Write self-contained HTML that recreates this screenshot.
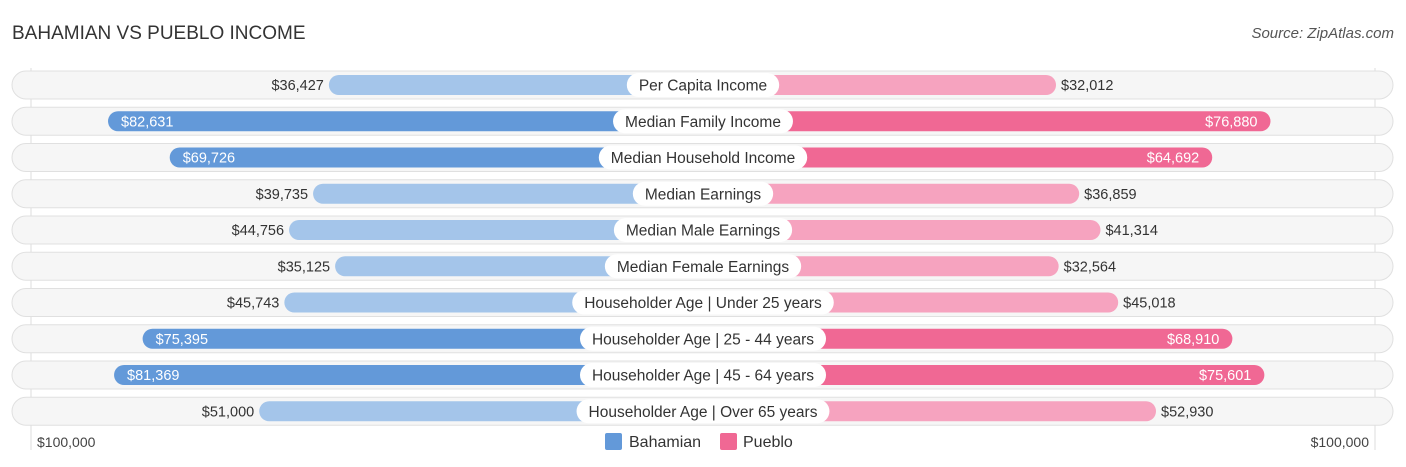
<!DOCTYPE html>
<html><head><meta charset="utf-8"><style>
body{margin:0;background:#fff;font-family:"Liberation Sans",sans-serif;}
svg{display:block}
</style></head><body>
<svg id="chart" width="1406" height="467">
<text x="12" y="39" font-size="19" fill="#333">BAHAMIAN VS PUEBLO INCOME</text>
<text x="1394" y="38" font-size="15" fill="#555" font-style="italic" text-anchor="end">Source: ZipAtlas.com</text>
<line x1="31" y1="68" x2="31" y2="450" stroke="#ddd"/>
<line x1="1375" y1="68" x2="1375" y2="450" stroke="#ddd"/>
<g id="rows"></g>
<text x="37" y="447" font-size="14" fill="#444">$100,000</text>
<text x="1369" y="447" font-size="14" fill="#444" text-anchor="end">$100,000</text>
<rect x="605" y="433" width="17" height="17" rx="2" fill="#6399d9"/>
<text x="629" y="447" font-size="16" fill="#333">Bahamian</text>
<rect x="720" y="433" width="17" height="17" rx="2" fill="#f06894"/>
<text x="743" y="447" font-size="16" fill="#333">Pueblo</text>
</svg>
<script>
const categories=["Per Capita Income","Median Family Income","Median Household Income","Median Earnings","Median Male Earnings","Median Female Earnings","Householder Age | Under 25 years","Householder Age | 25 - 44 years","Householder Age | 45 - 64 years","Householder Age | Over 65 years"];
const bahamian=[36427,82631,69726,39735,44756,35125,45743,75395,81369,51000];
const pueblo=[32012,76880,64692,36859,41314,32564,45018,68910,75601,52930];
const NS="http://www.w3.org/2000/svg";
const cx=703,base=200,k=4.78/1000;
const g=document.getElementById('rows');
function mk(t,a){const e=document.createElementNS(NS,t);for(const n in a)e.setAttribute(n,a[n]);return e;}
function fmt(v){return "$"+v.toLocaleString("en-US");}
function yc(i){return 85+i*36.25;}
function ext(v){return base+k*v;}
categories.forEach((c,i)=>{
  const y=yc(i);
  const bg=mk('rect',{x:12,y:y-14,width:1381,height:28,rx:14,fill:'#f6f6f6',stroke:'#e0e0e0'});
  
  
  g.appendChild(bg);
  const bv=bahamian[i],pv=pueblo[i];
  const bs=bv>60000,ps=pv>60000;
  const bl=cx-ext(bv);
  const b=mk('rect',{x:bl,y:y-10,width:ext(bv),height:20,rx:10,fill:bs?'#6399d9':'#a4c5ea'});
  
  
  g.appendChild(b);
  const p=mk('rect',{x:cx,y:y-10,width:ext(pv),height:20,rx:10,fill:ps?'#f06894':'#f6a3bf'});
  
  
  g.appendChild(p);
  const bt=mk('text',{x:bs?bl+13:bl-5,y:y+5,'font-size':14.5,fill:bs?'#fff':'#333','text-anchor':bs?'start':'end'});
  bt.textContent=fmt(bv);
  
  
  g.appendChild(bt);
  const pr=cx+ext(pv);
  const pt=mk('text',{x:ps?pr-13:pr+5,y:y+5,'font-size':14.5,fill:ps?'#fff':'#333','text-anchor':ps?'end':'start'});
  pt.textContent=fmt(pv);
  
  
  g.appendChild(pt);
  const lt=mk('text',{x:cx,y:y+5.5,'font-size':15.5,fill:'#333','text-anchor':'middle'});
  lt.textContent=c;
  g.appendChild(lt);
  const w=lt.getComputedTextLength()+24;
  const lb=mk('rect',{x:cx-w/2,y:y-12,width:w,height:24,rx:12,fill:'#fff'});
  
  
  g.insertBefore(lb,lt);
  
  
});
</script>
</body></html>
